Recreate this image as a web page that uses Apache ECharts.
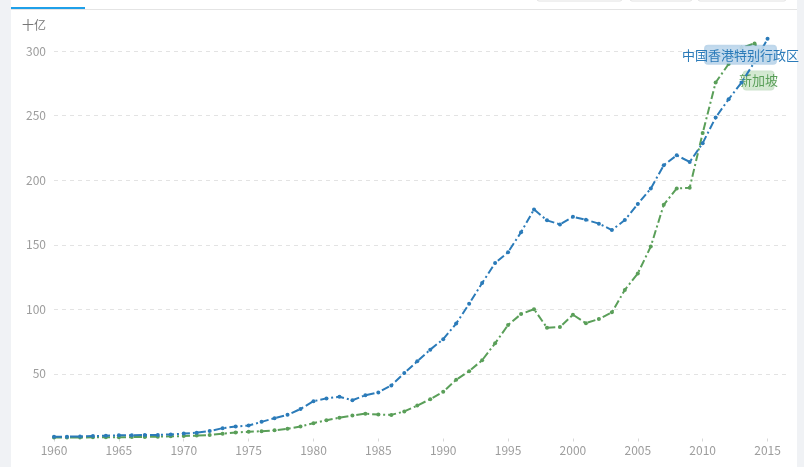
<!DOCTYPE html>
<html>
<head>
<meta charset="utf-8">
<script src="https://cdn.jsdelivr.net/npm/echarts@6/dist/echarts.min.js"></script>
<style>
html,body{margin:0;padding:0;background:#fff;}
#chart{width:804px;height:467px;}
</style>
</head>
<body>
<div id="chart"></div>
<script>
var years = [];
for (var y = 1960; y <= 2015; y++) years.push(y);
var tickYears = [1960, 1965, 1970, 1975, 1980, 1985, 1990, 1995, 2000, 2005, 2010, 2015];
var yTicks = [0, 50, 100, 150, 200, 250, 300];
var hkName = '中国香港特别行政区';
var sgName = '新加坡';
var hkValues = [1.32, 1.41, 1.61, 1.89, 2.13, 2.44, 2.52, 2.69, 2.71, 3.19,
  3.80, 4.46, 5.73, 8.03, 9.25, 10.05, 12.88, 15.73, 18.32, 22.82,
  28.86, 31.06, 32.29, 29.60, 33.51, 35.70, 41.08, 50.62, 59.71, 68.79,
  76.93, 88.96, 104.27, 120.35, 135.81, 144.23, 159.72, 177.35, 168.89, 165.77,
  171.67, 169.40, 166.35, 161.38, 169.10, 181.57, 193.54, 211.60, 219.28, 214.05,
  228.64, 248.51, 262.63, 275.70, 291.46, 309.39];
var sgValues = [0.70, 0.76, 0.82, 0.92, 0.89, 0.97, 1.08, 1.24, 1.43, 1.68,
  1.92, 2.26, 2.72, 3.69, 4.68, 5.22, 5.62, 6.33, 7.52, 9.30,
  11.90, 14.18, 16.08, 17.78, 19.20, 18.56, 18.29, 20.94, 25.50, 30.43,
  36.14, 45.47, 52.13, 60.60, 73.69, 87.89, 96.30, 100.12, 85.73, 86.28,
  95.83, 89.29, 92.54, 97.65, 115.04, 127.81, 148.63, 180.94, 193.61, 194.15,
  236.42, 275.60, 289.94, 302.51, 305.87, 292.74];

function pairs(vals) { return years.map(function (yr, i) { return [yr, vals[i]]; }); }

var blue = '#2b7bb9', green = '#5a9f59';
var chart = echarts.init(document.getElementById('chart'));
chart.setOption({
  animation: false,
  grid: { left: 54, right: 17, top: 51, bottom: 28.5 },
  xAxis: {
    type: 'value', min: 1960, max: 2016.5,
    axisLine: { show: false },
    axisTick: { show: true, length: 3, lineStyle: { color: '#d8d8d8' }, customValues: tickYears },
    axisLabel: { color: '#9d9d9d', fontSize: 12, margin: 6, fontFamily: 'Noto Sans CJK SC', customValues: tickYears, formatter: function (v) { return String(v); } },
    splitLine: { show: false }
  },
  yAxis: {
    type: 'value', min: 0, max: 300, interval: 50,
    name: '十亿', nameLocation: 'end', nameGap: 26,
    nameTextStyle: { color: '#777', fontSize: 12, align: 'right', verticalAlign: 'middle', padding: [0, 8, 0, 0], fontFamily: 'Noto Sans CJK SC' },
    axisLine: { show: false }, axisTick: { show: false },
    axisLabel: { color: '#9d9d9d', fontSize: 12, margin: 8, fontFamily: 'Noto Sans CJK SC', formatter: function (v) { return v === 0 ? '' : String(v); } },
    splitLine: { show: true, lineStyle: { type: [4, 4], color: ['rgba(0,0,0,0)', '#e3e3e3', '#e3e3e3', '#e3e3e3', '#e3e3e3', '#e3e3e3', '#e3e3e3'] } }
  },
  series: [
    {
      name: sgName, type: 'line', data: pairs(sgValues), clip: false, z: 2,
      symbol: 'circle', symbolSize: 4, showSymbol: true,
      itemStyle: { color: green },
      lineStyle: { color: green, width: 2, type: [8, 3, 2, 3] },
      endLabel: {
        show: true, formatter: sgName, color: green, fontSize: 13, fontFamily: 'Noto Sans CJK SC',
        backgroundColor: 'rgba(210,232,208,0.95)', borderColor: 'rgba(90,159,89,0.3)', borderWidth: 1, borderRadius: 3,
        width: 30, height: 18, align: 'center', verticalAlign: 'middle', lineHeight: 18, offset: [-17, 20]
      }
    },
    {
      name: hkName, type: 'line', data: pairs(hkValues), clip: false, z: 3,
      symbol: 'circle', symbolSize: 4, showSymbol: true,
      itemStyle: { color: blue },
      lineStyle: { color: blue, width: 2, type: [8, 3, 2, 3] },
      endLabel: {
        show: true, formatter: hkName, color: blue, fontSize: 13, fontFamily: 'Noto Sans CJK SC',
        backgroundColor: 'rgba(190,215,235,0.92)', borderColor: 'rgba(43,123,185,0.3)', borderWidth: 1, borderRadius: 3,
        width: 71, height: 18, align: 'center', verticalAlign: 'middle', lineHeight: 18, overflow: 'none', offset: [-35, 16]
      }
    }
  ],
  graphic: [
    { type: 'rect', shape: { x: 0, y: 0, width: 11, height: 467 }, style: { fill: '#f0f2f5' }, silent: true },
    { type: 'rect', shape: { x: 797, y: 0, width: 7, height: 467 }, style: { fill: '#f0f2f5' }, silent: true },
    { type: 'rect', shape: { x: 11, y: 9, width: 786, height: 1 }, style: { fill: '#e4e4e4' }, silent: true },
    { type: 'rect', shape: { x: 11, y: 7, width: 74, height: 2 }, style: { fill: '#1fa0e9' }, silent: true },
    { type: 'rect', shape: { x: 537, y: -6, width: 85, height: 7, r: 2 }, style: { fill: '#fff', stroke: '#e2e2e2' }, silent: true },
    { type: 'rect', shape: { x: 630, y: -6, width: 62, height: 7, r: 2 }, style: { fill: '#fff', stroke: '#e2e2e2' }, silent: true },
    { type: 'rect', shape: { x: 698, y: -6, width: 88, height: 7, r: 2 }, style: { fill: '#fff', stroke: '#e2e2e2' }, silent: true }
  ]
});
</script>
</body>
</html>
